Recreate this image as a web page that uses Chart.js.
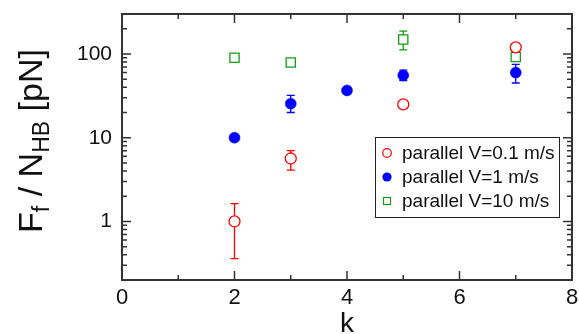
<!DOCTYPE html>
<html>
<head>
<meta charset="utf-8">
<script src="https://cdn.jsdelivr.net/npm/chart.js@4/dist/chart.umd.min.js"></script>
<style>
html,body{margin:0;padding:0;background:#fff;}
#wrap{width:579px;height:334px;position:relative;}
</style>
</head>
<body>
<div id="wrap"><canvas id="c" width="579" height="334"></canvas></div>
<script>
// ---- data ----
const seriesLabels = ['parallel V=0.1 m/s', 'parallel V=1 m/s', 'parallel V=10 m/s'];

const k01 = [2, 3, 5, 7];
const f01 = [1.0, 5.65, 25, 120];
const f01Low = [0.36, 4.1, null, null];
const f01High = [1.63, 7.0, null, null];

const k1 = [2, 3, 4, 5, 7];
const f1 = [10, 25.5, 36.7, 55.5, 60];
const f1Low = [null, 20, null, 48, 45];
const f1High = [null, 32, null, 64, 75];

const k10 = [2, 3, 5, 7];
const f10 = [90, 79, 149, 92];
const f10Low = [null, null, 112, null];
const f10High = [null, null, 187, null];

const xTickValues = [0, 2, 4, 6, 8];
const yTickValues = [1, 10, 100];
const yTickLabels = ['1', '10', '100'];

const FONT = "'Liberation Sans', Arial, Helvetica, sans-serif";
const RED = '#ff0000', BLUE = '#0000ff', GREEN = '#169c16';

function pts(xs, ys) { return xs.map((x, i) => ({x: x, y: ys[i]})); }

const errs = [
  {xs: k01, lo: f01Low, hi: f01High, color: RED},
  {xs: k1, lo: f1Low, hi: f1High, color: BLUE},
  {xs: k10, lo: f10Low, hi: f10High, color: GREEN}
];

const decorPlugin = {
  id: 'decor',
  beforeDatasetsDraw(chart) {
    const ctx = chart.ctx, xs = chart.scales.x, ys = chart.scales.y;
    ctx.save();
    ctx.lineWidth = 1.3;
    errs.forEach(e => {
      ctx.strokeStyle = e.color;
      e.xs.forEach((k, i) => {
        if (e.lo[i] == null) return;
        const px = xs.getPixelForValue(k);
        const y1 = ys.getPixelForValue(e.lo[i]);
        const y2 = ys.getPixelForValue(e.hi[i]);
        ctx.beginPath();
        ctx.moveTo(px, y1); ctx.lineTo(px, y2);
        ctx.moveTo(px - 4, y1); ctx.lineTo(px + 4, y1);
        ctx.moveTo(px - 4, y2); ctx.lineTo(px + 4, y2);
        ctx.stroke();
      });
    });
    ctx.restore();
  },
  afterDraw(chart) {
    const ctx = chart.ctx, a = chart.chartArea, xs = chart.scales.x, ys = chart.scales.y;
    ctx.save();
    ctx.strokeStyle = '#333';
    // ticks (inward)
    ctx.lineWidth = 1.5;
    ctx.beginPath();
    for (let k = 0; k <= 8; k++) {
      const px = xs.getPixelForValue(k);
      const len = (k % 2 === 0) ? 9 : 5;
      ctx.moveTo(px, a.bottom); ctx.lineTo(px, a.bottom - len);
      ctx.moveTo(px, a.top); ctx.lineTo(px, a.top + len);
    }
    for (let d = -1; d <= 2; d++) {
      for (let m = 1; m <= 9; m++) {
        const v = m * Math.pow(10, d);
        if (v < ys.min || v > ys.max) continue;
        const py = ys.getPixelForValue(v);
        const len = (m === 1) ? 9 : 5;
        ctx.moveTo(a.left, py); ctx.lineTo(a.left + len, py);
        ctx.moveTo(a.right, py); ctx.lineTo(a.right - len, py);
      }
    }
    ctx.stroke();
    // frame
    ctx.lineWidth = 2;
    ctx.strokeRect(a.left, a.top, a.right - a.left, a.bottom - a.top);

    // legend
    const lx = 375, ly = 137, lw = 184, lh = 80;
    ctx.fillStyle = '#fff';
    ctx.fillRect(lx, ly, lw, lh);
    ctx.lineWidth = 1;
    ctx.strokeStyle = '#222';
    ctx.strokeRect(lx + 0.5, ly + 0.5, lw, lh);
    ctx.font = '19px ' + FONT;
    ctx.textBaseline = 'middle';
    ctx.textAlign = 'left';
    const rowY = [153, 177, 201];
    seriesLabels.forEach((lab, i) => {
      const mx = 387, my = rowY[i];
      ctx.lineWidth = 1.2;
      if (i === 0) {
        ctx.strokeStyle = RED; ctx.fillStyle = '#fff';
        ctx.beginPath(); ctx.arc(mx, my, 4.3, 0, Math.PI * 2); ctx.fill(); ctx.stroke();
      } else if (i === 1) {
        ctx.fillStyle = BLUE;
        ctx.beginPath(); ctx.arc(mx, my, 4.6, 0, Math.PI * 2); ctx.fill();
      } else {
        ctx.strokeStyle = GREEN; ctx.fillStyle = '#fff';
        ctx.fillRect(mx - 3.5, my - 3.5, 7, 7); ctx.strokeRect(mx - 3.5, my - 3.5, 7, 7);
      }
      ctx.fillStyle = '#111';
      ctx.fillText(lab, 402, my + 1);
    });

    // x title
    ctx.fillStyle = '#111';
    ctx.font = '28px ' + FONT;
    ctx.textAlign = 'center';
    ctx.textBaseline = 'alphabetic';
    ctx.fillText('k', (a.left + a.right) / 2, 332);

    // y title with subscripts
    const big = 34, small = 23, sub = 7;
    const parts = [
      {t: 'F', s: big, o: 0}, {t: 'f', s: small, o: sub},
      {t: ' / N', s: big, o: 0}, {t: 'HB', s: small, o: sub},
      {t: ' [pN]', s: big, o: 0}
    ];
    let total = 0;
    parts.forEach(p => { ctx.font = p.s + 'px ' + FONT; p.w = ctx.measureText(p.t).width; total += p.w; });
    ctx.translate(42, 141);
    ctx.rotate(-Math.PI / 2);
    ctx.textAlign = 'left';
    let cx = -total / 2;
    parts.forEach(p => {
      ctx.font = p.s + 'px ' + FONT;
      ctx.fillText(p.t, cx, p.o);
      cx += p.w;
    });
    ctx.restore();
  }
};

new Chart(document.getElementById('c'), {
  type: 'scatter',
  data: {
    datasets: [
      {label: seriesLabels[0], data: pts(k01, f01), pointStyle: 'circle', pointRadius: 5.5,
       borderColor: RED, backgroundColor: '#fff', pointBorderWidth: 1.3},
      {label: seriesLabels[1], data: pts(k1, f1), pointStyle: 'circle', pointRadius: 5.5,
       borderColor: BLUE, backgroundColor: BLUE, pointBorderWidth: 0.5},
      {label: seriesLabels[2], data: pts(k10, f10), pointStyle: 'rect', pointRadius: 6.5,
       borderColor: GREEN, backgroundColor: '#fff', pointBorderWidth: 1.3}
    ]
  },
  options: {
    responsive: false,
    animation: false,
    devicePixelRatio: 1,
    layout: {autoPadding: false, padding: {left: 0, top: 14, right: 7, bottom: 0}},
    plugins: {legend: {display: false}, tooltip: {enabled: false}},
    scales: {
      x: {
        type: 'linear', min: 0, max: 8,
        grid: {display: false, drawTicks: false},
        border: {display: false},
        afterFit: s => { s.height = 54; s.paddingLeft = 0; s.paddingRight = 0; },
        afterBuildTicks: s => { s.ticks = xTickValues.map(v => ({value: v})); },
        ticks: {font: {family: FONT, size: 22}, color: '#111', padding: 5, maxRotation: 0,
                callback: v => String(v)}
      },
      y: {
        type: 'logarithmic', min: 0.2, max: 300,
        grid: {display: false, drawTicks: false},
        border: {display: false},
        afterFit: s => { s.width = 122; s.paddingTop = 0; s.paddingBottom = 0; },
        afterBuildTicks: s => { s.ticks = yTickValues.map(v => ({value: v})); },
        ticks: {font: {family: FONT, size: 21}, color: '#111', padding: 10,
                callback: (v) => yTickLabels[yTickValues.indexOf(v)]}
      }
    }
  },
  plugins: [decorPlugin]
});
</script>
</body>
</html>
